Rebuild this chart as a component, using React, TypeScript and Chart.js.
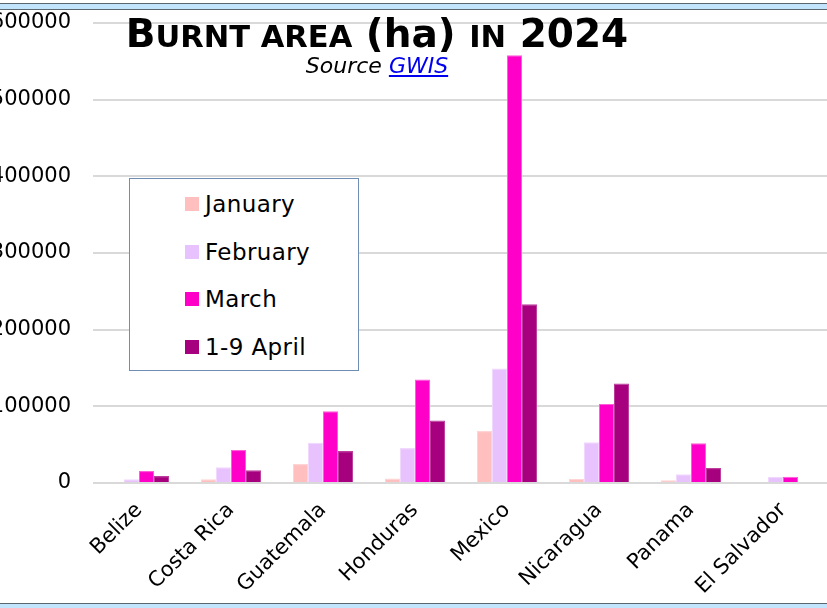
import React, { useEffect, useRef } from 'react';
import { Chart, registerables } from 'chart.js';

Chart.register(...registerables);

const categories = ['Belize', 'Costa Rica', 'Guatemala', 'Honduras', 'Mexico', 'Nicaragua', 'Panama', 'El Salvador'];
const seriesNames = ['January', 'February', 'March', '1-9 April'];
const january = [0, 5000, 24700, 6000, 67700, 5200, 3500, 0];
const february = [5000, 20400, 52500, 45500, 149300, 53000, 11300, 8200];
const march = [15600, 43000, 93700, 135000, 558000, 103200, 51700, 8200];
const april = [9000, 16500, 41600, 81600, 233000, 129700, 19500, 0];
const seriesColors = ['#ffbfbf', '#e8c2fc', '#ff00c8', '#a6007e'];
const seriesBorders = ['#ffd4d4', '#f1d8ff', '#ff5cd9', '#bd3d9d'];
const yMin = 0;
const yMax = 600000;
const yStep = 100000;

const FONT = "'DejaVu Sans', Verdana, sans-serif";

export default function App() {
  const canvasRef = useRef<HTMLCanvasElement | null>(null);

  useEffect(() => {
    const canvas = canvasRef.current;
    if (!canvas) return;
    const values = [january, february, march, april];
    const chart = new Chart(canvas, {
      type: 'bar',
      data: {
        labels: categories,
        datasets: seriesNames.map((name, i) => ({
          label: name,
          data: values[i],
          backgroundColor: seriesColors[i],
          borderColor: seriesBorders[i],
          borderWidth: 1,
          categoryPercentage: 0.652,
          barPercentage: 1,
        })),
      },
      options: {
        animation: false,
        responsive: false,
        devicePixelRatio: 1,
        layout: { padding: { top: 23, right: 11, left: 0, bottom: 0 } },
        plugins: {
          legend: { display: false },
          title: { display: false },
          tooltip: { enabled: false },
        },
        scales: {
          x: {
            grid: { display: false },
            border: { display: false },
            ticks: {
              autoSkip: false,
              minRotation: 45,
              maxRotation: 45,
              padding: 7,
              color: '#000',
              font: { family: FONT, size: 21 },
            },
            afterFit: (scale: any) => {
              scale.height = 125;
            },
          },
          y: {
            min: yMin,
            max: yMax,
            border: { display: false },
            grid: {
              color: '#d9d9d9',
              lineWidth: 2,
              drawTicks: true,
              tickLength: 20,
              tickColor: 'rgba(0,0,0,0)',
            },
            ticks: {
              stepSize: yStep,
              padding: 2,
              color: '#000',
              font: { family: FONT, size: 21 },
              callback: (v: any) => String(v),
            },
            afterFit: (scale: any) => {
              scale.width = 93;
            },
          },
        },
      },
    });
    return () => chart.destroy();
  }, []);

  const rowTops = [13, 60.5, 108, 155.5];

  return (
    <div
      style={{
        position: 'fixed',
        left: 0,
        top: 0,
        width: 827,
        height: 608,
        overflow: 'hidden',
        background: '#fff',
        fontFamily: FONT,
      }}
    >
      <canvas
        ref={canvasRef}
        width={840}
        height={608}
        style={{ position: 'absolute', left: 0, top: 0, width: 840, height: 608 }}
      />
      {/* top frame */}
      <div
        style={{
          position: 'absolute',
          left: 0,
          top: 3,
          width: 827,
          height: 5,
          background: '#c2e4fc',
          borderTop: '1px solid #5c666f',
          borderBottom: '1px solid #5c666f',
        }}
      />
      {/* bottom frame */}
      <div
        style={{
          position: 'absolute',
          left: 0,
          top: 603,
          width: 827,
          height: 5,
          background: '#c2e4fc',
          borderTop: '1px solid #5c666f',
        }}
      />
      {/* title */}
      <div
        style={{
          position: 'absolute',
          left: 377,
          top: 14,
          transform: 'translateX(-50%)',
          whiteSpace: 'nowrap',
          fontWeight: 'bold',
          fontSize: 39,
          lineHeight: '39px',
          color: '#000',
        }}
      >
        B<span style={{ fontSize: 30.5 }}>URNT AREA</span> (ha) <span style={{ fontSize: 30.5 }}>IN</span> 2024
      </div>
      {/* subtitle */}
      <div
        style={{
          position: 'absolute',
          left: 377,
          top: 54.5,
          transform: 'translateX(-50%)',
          whiteSpace: 'nowrap',
          fontStyle: 'italic',
          fontSize: 22,
          lineHeight: '22px',
          color: '#000',
        }}
      >
        Source <span style={{ color: '#0000ee', textDecoration: 'underline' }}>GWIS</span>
      </div>
      {/* legend */}
      <div
        style={{
          position: 'absolute',
          left: 129,
          top: 178,
          width: 230,
          height: 193,
          boxSizing: 'border-box',
          border: '1px solid #6f8db5',
          background: '#fff',
        }}
      >
        {seriesNames.map((name, i) => (
          <div
            key={name}
            style={{
              position: 'absolute',
              left: 55,
              top: rowTops[i],
              height: 24,
              display: 'flex',
              alignItems: 'center',
              whiteSpace: 'nowrap',
            }}
          >
            <span
              style={{
                display: 'inline-block',
                width: 14,
                height: 14,
                background: seriesColors[i],
                marginRight: 6,
              }}
            />
            <span style={{ fontSize: 23, lineHeight: '24px', letterSpacing: '0.4px', color: '#000' }}>{name}</span>
          </div>
        ))}
      </div>
    </div>
  );
}
